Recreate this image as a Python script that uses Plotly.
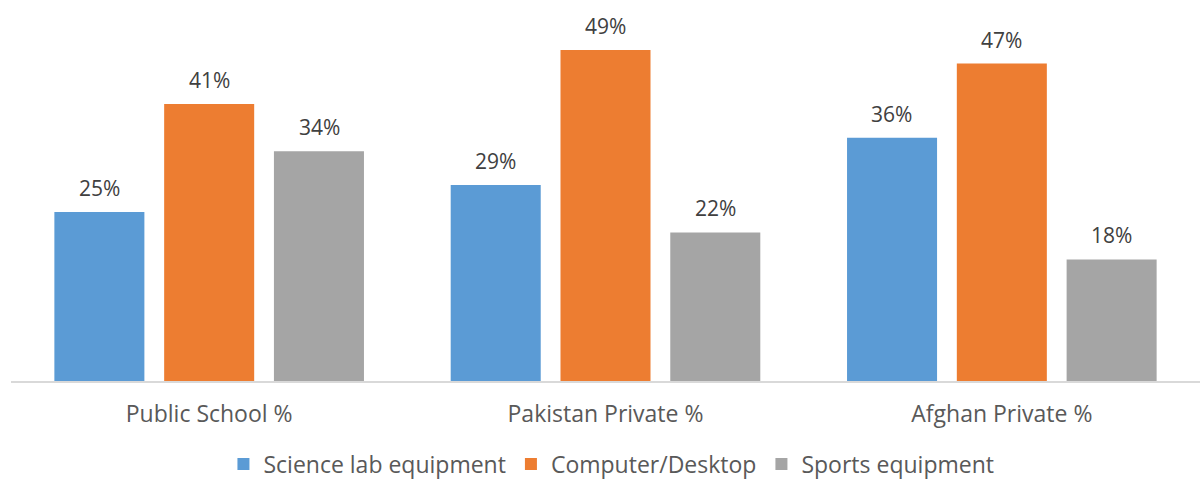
import plotly.graph_objects as go

categories = ["Public School %", "Pakistan Private %", "Afghan Private %"]
series_names = ["Science lab equipment", "Computer/Desktop", "Sports equipment"]
science_lab = [25, 29, 36]
computer = [41, 49, 47]
sports = [34, 22, 18]

colors = ["#5b9bd5", "#ed7d31", "#a5a5a5"]
font_family = "Open Sans"

fig = go.Figure()
all_values = [science_lab, computer, sports]
for name, vals, col in zip(series_names, all_values, colors):
    fig.add_trace(go.Bar(
        name=name, x=categories, y=vals,
        marker=dict(color=col, line=dict(width=0)),
    ))

# value labels above each bar
bar_step = 110
for j, vals in enumerate(all_values):
    for cat, v in zip(categories, vals):
        fig.add_annotation(
            x=cat, y=v, text=f"{v}%", showarrow=False,
            xshift=(j - 1) * bar_step, yshift=24, yanchor="middle",
            font=dict(family=font_family, size=21, color="#404040"),
        )

fig.update_layout(
    width=1200, height=479,
    margin=dict(l=11, r=0, t=0, b=98),
    paper_bgcolor="white", plot_bgcolor="white",
    barmode="group", bargap=0.169, bargroupgap=0.18,
    font=dict(family=font_family, size=23, color="#595959"),
    showlegend=True,
    legend=dict(
        orientation="h", x=0.505, xanchor="center",
        yref="container", y=0.031, yanchor="middle",
        font=dict(family=font_family, size=23, color="#595959"),
        itemwidth=30, traceorder="normal",
    ),
    xaxis=dict(
        showline=True, linecolor="#d9d9d9", linewidth=1.5,
        ticks="", showgrid=False, ticklabelstandoff=12,
        tickfont=dict(family=font_family, size=23, color="#595959"),
    ),
    yaxis=dict(range=[0, 56.4], visible=False, showgrid=False),
)

fig.write_html("out.html")
